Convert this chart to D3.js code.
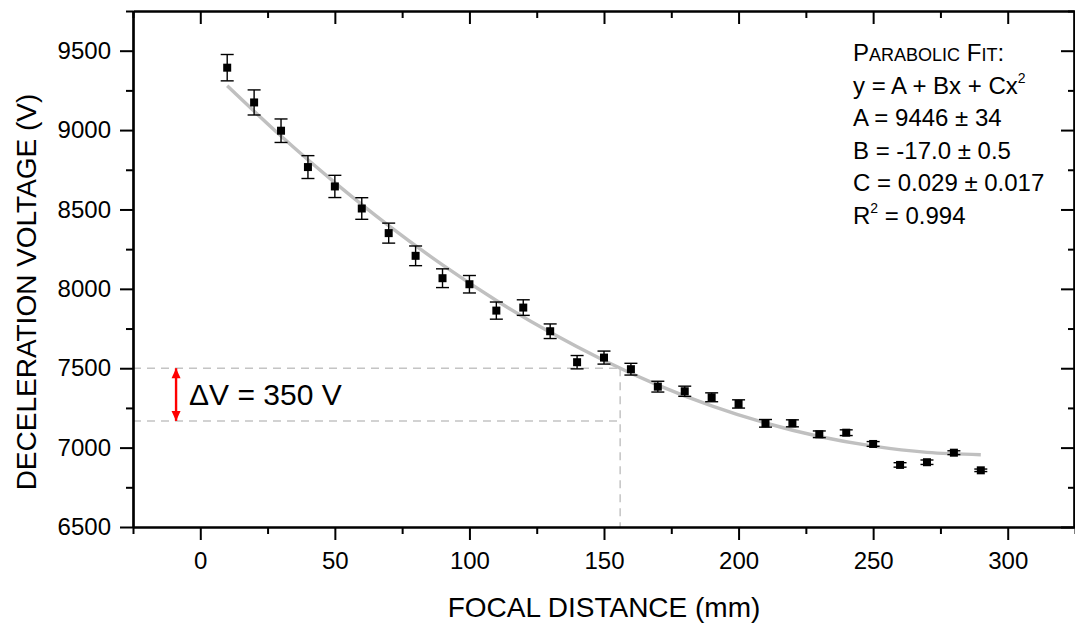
<!DOCTYPE html>
<html>
<head>
<meta charset="utf-8">
<script src="https://cdn.jsdelivr.net/npm/d3@7"></script>
<style>
  html, body { margin: 0; padding: 0; background: #fff; }
  svg { display: block; font-family: Arial, "Liberation Sans", Helvetica, sans-serif; }
</style>
</head>
<body>
<svg id="chart" width="1075" height="626"></svg>
<script>
// ---- data ----
const focalDistance = [10,20,30,40,50,60,70,80,90,100,110,120,130,140,150,160,170,180,190,200,210,220,230,240,250,260,270,280,290];
const voltage = [9393,9174,8996,8767,8645,8506,8351,8208,8067,8029,7863,7882,7733,7538,7567,7494,7384,7355,7317,7275,7153,7153,7084,7094,7023,6891,6908,6968,6857];
const voltageErr = [83,79,74,72,70,68,63,62,59,55,54,49,46,42,41,37,34,32,28,26,24,22,21,18,15,14,14,12,8];
// parabolic fit curve (from A=9446, B=-17.0, C=0.029), sampled
const fitX = [10,30,50,70,90,110,130,150,170,190,210,230,250,270,290];
const fitY = [9279,8962,8669,8398,8151,7927,7726,7549,7394,7263,7155,7070,7009,6970,6955];
const xTickValues = [0,50,100,150,200,250,300];
const yTickValues = [6500,7000,7500,8000,8500,9000,9500];
const xMinorTicks = [-25,25,75,125,175,225,275,325];
const yMinorTicks = [6750,7250,7750,8250,8750,9250,9750];
const guideV = [7500, 7168];      // horizontal dashed guides
const guideX = 156;               // vertical dashed guide
const arrowX = -9;
const fitLines = [
  [["P",1],["ARABOLIC",0],[" ",1],["F",1],["IT",0],[":",1]],
  [["y = A + Bx + Cx",1],["2",2]],
  [["A = 9446 ± 34",1]],
  [["B = -17.0 ± 0.5",1]],
  [["C = 0.029 ± 0.017",1]],
  [["R",1],["2",2],[" = 0.994",1]]
];

// ---- layout ----
const svg = d3.select("#chart");
const L = 133, R = 1075, T = 11, B = 527;
const x = d3.scaleLinear().domain([-25, 325]).range([L, R]);
const y = d3.scaleLinear().domain([6500, 9750]).range([B, T]);

const tickFont = 24;

// fit line (under points)
svg.append("path")
  .datum(fitX.map((d,i)=>[d, fitY[i]]))
  .attr("fill","none").attr("stroke","#c0c0c0").attr("stroke-width",3.4)
  .attr("d", d3.line().x(d=>x(d[0])).y(d=>y(d[1])).curve(d3.curveNatural));

// dashed guides
const dash = "8,6";
guideV.forEach(v => {
  svg.append("line").attr("x1", x(-25)).attr("x2", x(guideX))
    .attr("y1", y(v)).attr("y2", y(v))
    .attr("stroke","#c4c4c4").attr("stroke-width",1.5).attr("stroke-dasharray",dash);
});
svg.append("line").attr("x1", x(guideX)).attr("x2", x(guideX))
  .attr("y1", y(guideV[0])).attr("y2", y(6500))
  .attr("stroke","#c4c4c4").attr("stroke-width",1.5).attr("stroke-dasharray",dash);

// red double arrow
const defs = svg.append("defs");
["s","e"].forEach(k=>{
  defs.append("marker").attr("id","arr"+k).attr("viewBox","0 0 10 10")
    .attr("refX", k==="e"?10:0).attr("refY",5).attr("markerWidth",11).attr("markerHeight",10)
    .attr("markerUnits","userSpaceOnUse").attr("orient","auto")
    .append("path").attr("d", k==="e" ? "M0,0.5 L10,5 L0,9.5 Z" : "M10,0.5 L0,5 L10,9.5 Z").attr("fill","#ff0000");
});
svg.append("line").attr("x1", x(arrowX)).attr("x2", x(arrowX))
  .attr("y1", y(guideV[0])).attr("y2", y(guideV[1]))
  .attr("stroke","#ff0000").attr("stroke-width",2.4)
  .attr("marker-start","url(#arrs)").attr("marker-end","url(#arre)");
svg.append("text").attr("x", x(arrowX)+13).attr("y", (y(guideV[0])+y(guideV[1]))/2 + 10.5)
  .attr("font-size",30).attr("fill","#000").text("ΔV = 350 V");

// error bars
const eb = svg.append("g").attr("stroke","#000").attr("stroke-width",1.4);
focalDistance.forEach((d,i)=>{
  const cx = x(d), y1 = y(voltage[i]+voltageErr[i]), y2 = y(voltage[i]-voltageErr[i]);
  eb.append("line").attr("x1",cx).attr("x2",cx).attr("y1",y1).attr("y2",y2);
  eb.append("line").attr("x1",cx-6.5).attr("x2",cx+6.5).attr("y1",y1).attr("y2",y1);
  eb.append("line").attr("x1",cx-6.5).attr("x2",cx+6.5).attr("y1",y2).attr("y2",y2);
});
// markers
svg.append("g").selectAll("rect").data(focalDistance).join("rect")
  .attr("x", d=>x(d)-4).attr("y", (d,i)=>y(voltage[i])-4)
  .attr("width",8).attr("height",8).attr("fill","#000");

// axes
function styleAxis(g){
  g.selectAll("path.domain").attr("stroke","#000").attr("stroke-width",2.2);
  g.selectAll(".tick line").attr("stroke","#000").attr("stroke-width",2);
  g.selectAll("text").attr("font-size",tickFont).attr("font-family","Arial, 'Liberation Sans', sans-serif").attr("fill","#000");
}
const fmt = d3.format("d");
// bottom
svg.append("g").attr("transform",`translate(0,${B})`)
  .call(d3.axisBottom(x).tickValues(xTickValues).tickFormat(fmt).tickSize(13).tickSizeOuter(0).tickPadding(12))
  .call(styleAxis);
svg.append("g").attr("transform",`translate(0,${B})`)
  .call(d3.axisBottom(x).tickValues(xMinorTicks).tickSize(7).tickSizeOuter(0).tickFormat(""))
  .call(styleAxis);
// top
svg.append("g").attr("transform",`translate(0,${T})`)
  .call(d3.axisTop(x).tickValues(xTickValues).tickSize(-13).tickSizeOuter(0).tickFormat(""))
  .call(styleAxis);
svg.append("g").attr("transform",`translate(0,${T})`)
  .call(d3.axisTop(x).tickValues(xMinorTicks).tickSize(-7).tickSizeOuter(0).tickFormat(""))
  .call(styleAxis);
// left
svg.append("g").attr("transform",`translate(${L},0)`)
  .call(d3.axisLeft(y).tickValues(yTickValues).tickFormat(fmt).tickSize(13).tickSizeOuter(0).tickPadding(9))
  .call(styleAxis);
svg.append("g").attr("transform",`translate(${L},0)`)
  .call(d3.axisLeft(y).tickValues(yMinorTicks).tickSize(7).tickSizeOuter(0).tickFormat(""))
  .call(styleAxis);
// right
svg.append("g").attr("transform",`translate(${R-1},0)`)
  .call(d3.axisRight(y).tickValues(yTickValues).tickSize(-13).tickSizeOuter(0).tickFormat(""))
  .call(styleAxis);
svg.append("g").attr("transform",`translate(${R-1},0)`)
  .call(d3.axisRight(y).tickValues(yMinorTicks).tickSize(-6).tickSizeOuter(0).tickFormat(""))
  .call(styleAxis);

// axis titles
svg.append("text").attr("x", (L+R)/2).attr("y", 617).attr("text-anchor","middle")
  .attr("font-size",28).text("FOCAL DISTANCE (mm)");
svg.append("text").attr("transform",`translate(36,292) rotate(-90)`).attr("text-anchor","middle")
  .attr("font-size",28).text("DECELERATION VOLTAGE (V)");

// fit annotation
const ann = svg.append("g").attr("font-size",24);
fitLines.forEach((parts,i)=>{
  const t = ann.append("text").attr("x",853).attr("y",61 + i*32.6);
  let prevSup = false;
  parts.forEach(p=>{
    const ts = t.append("tspan").text(p[0]);
    if (p[1]===0) ts.attr("font-size",18);
    if (p[1]===2) { ts.attr("font-size",14).attr("dy",-11); prevSup = true; }
    else if (prevSup) { ts.attr("dy",11); prevSup = false; }
  });
});
</script>
</body>
</html>
